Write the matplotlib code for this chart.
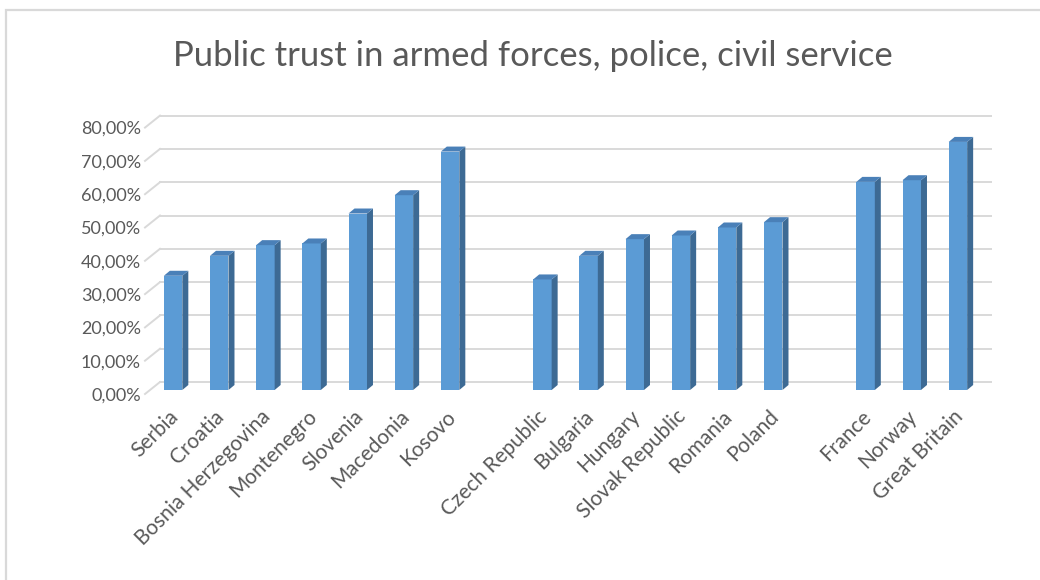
import matplotlib.pyplot as plt
from matplotlib.patches import Polygon, Rectangle
from matplotlib.lines import Line2D

# trust in armed forces, police and civil service (%), three country groups
balkans = ['Serbia', 'Croatia', 'Bosnia Herzegovina', 'Montenegro',
           'Slovenia', 'Macedonia', 'Kosovo']
balkans_trust = [34.3, 40.3, 43.5, 44.0, 53.0, 58.5, 71.6]

central = ['Czech Republic', 'Bulgaria', 'Hungary', 'Slovak Republic',
           'Romania', 'Poland']
central_trust = [33.2, 40.3, 45.3, 46.4, 48.8, 50.4]

western = ['France', 'Norway', 'Great Britain']
western_trust = [62.5, 63.0, 74.5]

yticks = [0, 10, 20, 30, 40, 50, 60, 70, 80]

# one empty slot between groups
labels = balkans + [''] + central + [''] + western
values = balkans_trust + [None] + central_trust + [None] + western_trust

FRONT = '#5b9bd5'
SIDE = '#3d6a94'
TOP = '#4a80b8'
GRID = '#d9d9d9'
TEXT = '#595959'
FONT = 'Lato'

W, H = 10.4, 5.8
fig = plt.figure(figsize=(W, H), dpi=100)

# chart area outline
fig.add_artist(Rectangle((6 / 1040, -0.1), 1.2, (580 - 10) / 580 + 0.1,
                         transform=fig.transFigure, fill=False,
                         edgecolor=GRID, linewidth=1.6))

ax_pos = [145 / 1040, 186 / 580, 831 / 1040, 266.4 / 580]
ax = fig.add_axes(ax_pos)
n = len(labels)
ax.set_xlim(-0.5, n - 0.5)
ax.set_ylim(0, 80)
for s in ax.spines.values():
    s.set_visible(False)
ax.patch.set_alpha(0)

# pixels per data unit, used for the depth of the 3d look
px_x = ax_pos[2] * W * 100 / n
px_y = ax_pos[3] * H * 100 / 80

def depth(px_right, px_up):
    return px_right / px_x, px_up / px_y

# back wall gridlines with their slanted floor ends
wx, wy = depth(15, 12)
for t in yticks:
    ax.add_line(Line2D([-0.5 + wx, n - 0.5 + wx], [t + wy, t + wy],
                       color=GRID, lw=1.4, zorder=1, clip_on=False))
    ax.add_line(Line2D([-0.5, -0.5 + wx], [t, t + wy],
                       color=GRID, lw=1.4, zorder=1, clip_on=False))

# bars: front face, right side, top
fx, fy = depth(5, 4)
bx, by = depth(6, 5)
bw = 0.4
for i, v in enumerate(values):
    if v is None:
        continue
    x0 = i - bw / 2 + fx
    x1 = i + bw / 2 + fx
    y0 = fy
    y1 = v + fy
    ax.add_patch(Rectangle((x0, y0), bw, v, facecolor=FRONT,
                           edgecolor='none', zorder=3, clip_on=False))
    ax.add_patch(Polygon([(x1, y0), (x1 + bx, y0 + by), (x1 + bx, y1 + by),
                          (x1, y1)], facecolor=SIDE, edgecolor='none',
                         zorder=3, clip_on=False))
    ax.add_patch(Polygon([(x0, y1), (x1, y1), (x1 + bx, y1 + by),
                          (x0 + bx, y1 + by)], facecolor=TOP,
                         edgecolor='none', zorder=3, clip_on=False))

ax.set_yticks(yticks)
ax.set_yticklabels([f'{t:.2f}%'.replace('.', ',') for t in yticks],
                   fontsize=13, color=TEXT, family=FONT)
ax.tick_params(axis='y', length=0, pad=3)

ax.set_xticks(range(n))
ax.set_xticklabels(labels, rotation=45, ha='right', va='top',
                   rotation_mode='anchor', fontsize=15, color=TEXT,
                   family=FONT)
ax.tick_params(axis='x', length=0, pad=9)

fig.text(0.512, 1 - 56 / 580, 'Public trust in armed forces, police, civil service',
         ha='center', va='center', fontsize=25, color=TEXT, family=FONT)

fig.savefig('out.png', dpi=100)
